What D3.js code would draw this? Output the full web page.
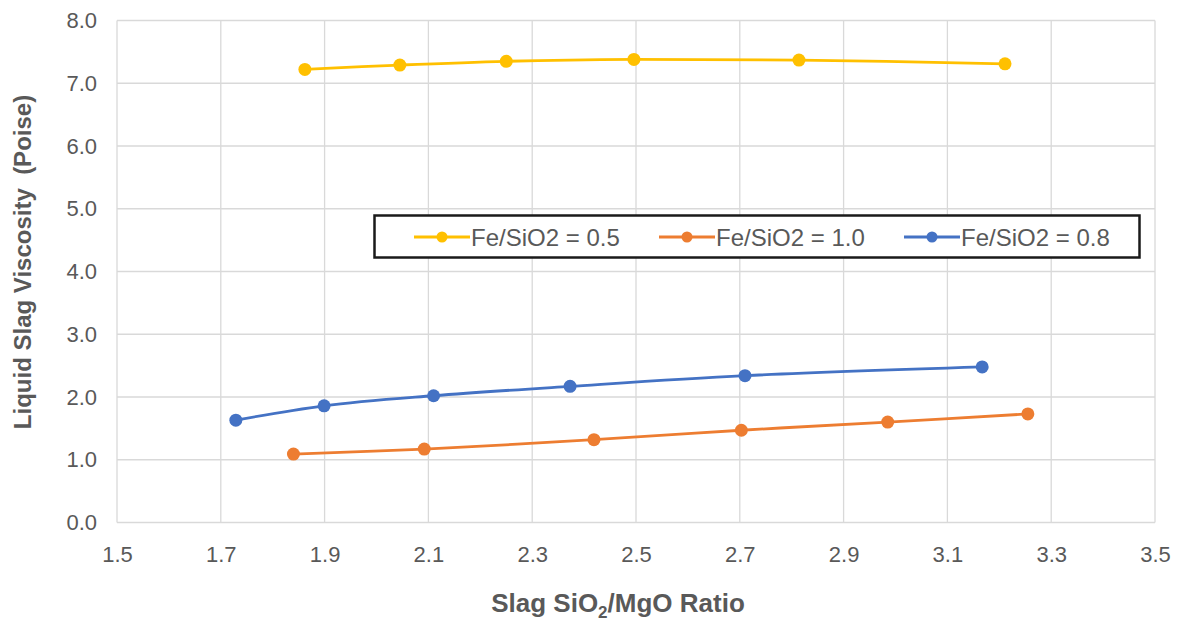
<!DOCTYPE html>
<meta charset="utf-8">
<html>
<head>
<style>
  body { margin: 0; background: #fff; }
  svg { font-family: Arial, "Liberation Sans", sans-serif; }
</style>
</head>
<body>
<svg width="1179" height="621"></svg>
<script src="https://cdn.jsdelivr.net/npm/d3@7"></script>
<script>

// series
var seriesNames = ["Fe/SiO2 = 0.5", "Fe/SiO2 = 1.0", "Fe/SiO2 = 0.8"];
var seriesColors = ["#FFC000", "#ED7D31", "#4472C4"];

var ratio05 = [1.862, 2.045, 2.25, 2.496, 2.814, 3.211];
var visc05  = [7.22, 7.29, 7.35, 7.38, 7.37, 7.31];

var ratio10 = [1.84, 2.092, 2.419, 2.703, 2.985, 3.255];
var visc10  = [1.09, 1.17, 1.32, 1.47, 1.60, 1.73];

var ratio08 = [1.729, 1.899, 2.11, 2.373, 2.71, 3.167];
var visc08  = [1.63, 1.86, 2.02, 2.17, 2.34, 2.48];

var xTicks = [1.5, 1.7, 1.9, 2.1, 2.3, 2.5, 2.7, 2.9, 3.1, 3.3, 3.5];
var yTicks = [0, 1, 2, 3, 4, 5, 6, 7, 8];

var svg = d3.select("svg");

var x = d3.scaleLinear().domain([1.5, 3.5]).range([117, 1155]);
var y = d3.scaleLinear().domain([0, 8]).range([522.5, 20.5]);

var textGray = "#595959";
var gridGray = "#d9d9d9";

// grid
svg.append("g").selectAll("line.v")
  .data(xTicks).enter().append("line")
    .attr("x1", function(d) { return x(d); })
    .attr("x2", function(d) { return x(d); })
    .attr("y1", y(0)).attr("y2", y(8))
    .attr("stroke", gridGray).attr("stroke-width", 1.3);

svg.append("g").selectAll("line.h")
  .data(yTicks).enter().append("line")
    .attr("x1", x(1.5)).attr("x2", x(3.5))
    .attr("y1", function(d) { return y(d); })
    .attr("y2", function(d) { return y(d); })
    .attr("stroke", gridGray).attr("stroke-width", 1.3);

// axes, tick labels only
var xAxis = svg.append("g")
    .attr("transform", "translate(0," + y(0) + ")")
    .call(d3.axisBottom(x).tickValues(xTicks).tickFormat(d3.format(".1f")).tickSize(0).tickPadding(24));
var yAxis = svg.append("g")
    .attr("transform", "translate(" + x(1.5) + ",0)")
    .call(d3.axisLeft(y).tickValues(yTicks).tickFormat(d3.format(".1f")).tickSize(0).tickPadding(20));

[xAxis, yAxis].forEach(function(a) {
  a.select(".domain").remove();
  a.selectAll("text")
    .attr("fill", textGray)
    .style("font-size", "22px")
    .style("font-family", "Arial, 'Liberation Sans', sans-serif");
});

// axis titles
svg.append("text")
    .attr("x", 618).attr("y", 612)
    .attr("text-anchor", "middle")
    .attr("fill", textGray)
    .style("font-size", "26px").style("font-weight", "bold")
    .html('Slag SiO<tspan dy="6" font-size="17px">2</tspan><tspan dy="-6">/MgO Ratio</tspan>');

svg.append("text")
    .attr("transform", "translate(31," + 262 + ") rotate(-90)")
    .attr("text-anchor", "middle")
    .attr("fill", textGray)
    .style("font-size", "24px").style("font-weight", "bold")
    .style("white-space", "pre")
    .text("Liquid Slag Viscosity  (Poise)");

// series
var allSeries = [
  { name: seriesNames[0], color: seriesColors[0], xs: ratio05, ys: visc05 },
  { name: seriesNames[1], color: seriesColors[1], xs: ratio10, ys: visc10 },
  { name: seriesNames[2], color: seriesColors[2], xs: ratio08, ys: visc08 }
];

var line = d3.line()
    .x(function(d) { return x(d[0]); })
    .y(function(d) { return y(d[1]); })
    .curve(d3.curveCatmullRom.alpha(0.5));

allSeries.forEach(function(s) {
  var pts = s.xs.map(function(v, i) { return [v, s.ys[i]]; });
  var g = svg.append("g");
  g.append("path")
      .datum(pts)
      .attr("d", line)
      .attr("fill", "none")
      .attr("stroke", s.color)
      .attr("stroke-width", 2.8)
      .attr("stroke-linecap", "round");
  g.selectAll("circle")
      .data(pts).enter().append("circle")
      .attr("cx", function(d) { return x(d[0]); })
      .attr("cy", function(d) { return y(d[1]); })
      .attr("r", 6.5)
      .attr("fill", s.color);
});

// legend
var legend = svg.append("g");
legend.append("rect")
    .attr("x", 374.5).attr("y", 215.5)
    .attr("width", 765).attr("height", 42)
    .attr("fill", "#fff")
    .attr("stroke", "#1a1a1a").attr("stroke-width", 2.5);

var legendX = [414, 659, 904];
allSeries.forEach(function(s, i) {
  var lx = legendX[i], ly = 237;
  legend.append("line")
      .attr("x1", lx).attr("x2", lx + 56)
      .attr("y1", ly).attr("y2", ly)
      .attr("stroke", s.color).attr("stroke-width", 2.8);
  legend.append("circle")
      .attr("cx", lx + 28).attr("cy", ly).attr("r", 5.5)
      .attr("fill", s.color);
  legend.append("text")
      .attr("x", lx + 57).attr("y", ly + 8.5)
      .attr("fill", textGray)
      .style("font-size", "24px")
      .text(s.name);
});

</script>
</body>
</html>
